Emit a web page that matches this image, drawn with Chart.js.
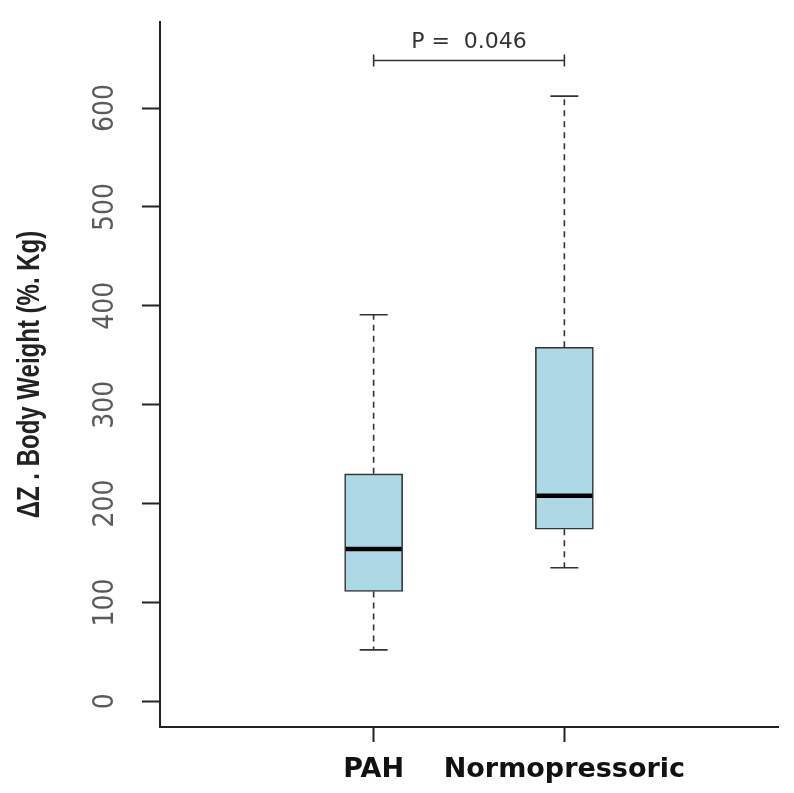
<!DOCTYPE html>
<html>
<head>
<meta charset="utf-8">
<script src="https://cdn.jsdelivr.net/npm/chart.js@4.4.0/dist/chart.umd.min.js"></script>
<style>
  html, body { margin: 0; padding: 0; background: #fff; }
  #wrap { width: 794px; height: 793px; }
</style>
</head>
<body>
<div id="wrap"><canvas id="chart"></canvas></div>
<script>
const categories = ['PAH', 'Normopressoric'];
const whiskerLow = [52, 135];
const q1 = [111, 174];
const median = [154, 208];
const q3 = [230, 358];
const whiskerHigh = [391, 612];
const yTicks = [0, 100, 200, 300, 400, 500, 600];
const yTitle = 'ΔZ . Body Weight (%. Kg)';
const pValueLabel = 'P =  0.046';
const pBracketValue = 648;

const narrow = '"Liberation Sans Narrow", "DejaVu Sans Condensed", "Arial Narrow", sans-serif';

const boxData = categories.map((c, i) => ({ x: i + 1, y: [q1[i], q3[i]] }));

const boxExtras = {
  id: 'boxExtras',
  beforeDatasetsDraw(chart) {
    const { ctx, scales: { x, y } } = chart;
    ctx.save();
    ctx.strokeStyle = '#333';
    ctx.lineWidth = 1.6;
    categories.forEach((c, i) => {
      const cx = x.getPixelForValue(i + 1);
      // dashed whiskers
      ctx.setLineDash([6, 5]);
      ctx.beginPath();
      ctx.moveTo(cx, y.getPixelForValue(q3[i]));
      ctx.lineTo(cx, y.getPixelForValue(whiskerHigh[i]));
      ctx.moveTo(cx, y.getPixelForValue(q1[i]));
      ctx.lineTo(cx, y.getPixelForValue(whiskerLow[i]));
      ctx.stroke();
      // caps
      ctx.setLineDash([]);
      ctx.beginPath();
      [whiskerHigh[i], whiskerLow[i]].forEach(v => {
        const py = y.getPixelForValue(v);
        ctx.moveTo(cx - 14, py);
        ctx.lineTo(cx + 14, py);
      });
      ctx.stroke();
    });
    ctx.restore();
  },
  afterDatasetsDraw(chart) {
    const { ctx, chartArea, scales: { x, y } } = chart;
    ctx.save();
    // medians
    ctx.strokeStyle = '#000';
    ctx.lineWidth = 4.5;
    categories.forEach((c, i) => {
      const cx = x.getPixelForValue(i + 1);
      const py = y.getPixelForValue(median[i]);
      ctx.beginPath();
      ctx.moveTo(cx - 28, py);
      ctx.lineTo(cx + 28, py);
      ctx.stroke();
    });
    // p-value bracket
    const x1 = x.getPixelForValue(1), x2 = x.getPixelForValue(2);
    const by = y.getPixelForValue(pBracketValue);
    ctx.strokeStyle = '#333';
    ctx.lineWidth = 1.6;
    ctx.beginPath();
    ctx.moveTo(x1, by); ctx.lineTo(x2, by);
    ctx.moveTo(x1, by - 6); ctx.lineTo(x1, by + 6);
    ctx.moveTo(x2, by - 6); ctx.lineTo(x2, by + 6);
    ctx.stroke();
    ctx.fillStyle = '#333';
    ctx.font = '22px "DejaVu Sans"';
    ctx.textAlign = 'center';
    ctx.textBaseline = 'alphabetic';
    ctx.fillText(pValueLabel, (x1 + x2) / 2, by - 13);
    ctx.restore();

    // y title, tall and narrow like the source image
    ctx.save();
    ctx.translate(30, (chartArea.top + chartArea.bottom) / 2);
    ctx.rotate(-Math.PI / 2);
    ctx.scale(1, 1.3);
    ctx.fillStyle = '#222';
    ctx.font = 'bold 24px "Liberation Sans", Arial, sans-serif';
    ctx.textAlign = 'center';
    ctx.textBaseline = 'middle';
    ctx.fillText(yTitle, 0, 0);
    ctx.restore();
  }
};

new Chart(document.getElementById('chart'), {
  type: 'bar',
  data: {
    datasets: [{
      data: boxData,
      backgroundColor: '#add8e6',
      borderColor: '#333',
      borderWidth: 1.6,
      borderSkipped: false,
      barThickness: 58
    }]
  },
  options: {
    responsive: true,
    maintainAspectRatio: false,
    animation: false,
    layout: { padding: { top: 22, right: 16, left: 0, bottom: 0 } },
    plugins: { legend: { display: false }, tooltip: { enabled: false } },
    scales: {
      x: {
        type: 'linear',
        offset: false,
        min: -0.12,
        max: 3.12,
        afterBuildTicks: s => { s.ticks = categories.map((c, i) => ({ value: i + 1 })); },
        afterFit: s => { s.height = 66; s.paddingLeft = 0; s.paddingRight = 0; },
        grid: { offset: false, drawOnChartArea: false, drawTicks: true, tickLength: 15, tickColor: '#222', tickWidth: 2 },
        border: { display: true, color: '#222', width: 2 },
        ticks: {
          callback: v => categories[v - 1] || '',
          font: { family: 'DejaVu Sans', size: 27, weight: 'bold' },
          color: '#111',
          padding: 12,
          maxRotation: 0,
          autoSkip: false
        }
      },
      y: {
        type: 'linear',
        min: -26,
        max: 687,
        afterBuildTicks: s => { s.ticks = yTicks.map(v => ({ value: v })); },
        afterFit: s => { s.width = 160; s.paddingTop = 0; s.paddingBottom = 0; },
        grid: { drawOnChartArea: false, drawTicks: true, tickLength: 18, tickColor: '#222', tickWidth: 2 },
        border: { display: true, color: '#222', width: 2 },
        ticks: {
          minRotation: 90,
          maxRotation: 90,
          crossAlign: 'center',
          font: { family: narrow, size: 28 },
          color: '#5a5a5a',
          padding: 12
        }
      }
    }
  },
  plugins: [boxExtras]
});
</script>
</body>
</html>
